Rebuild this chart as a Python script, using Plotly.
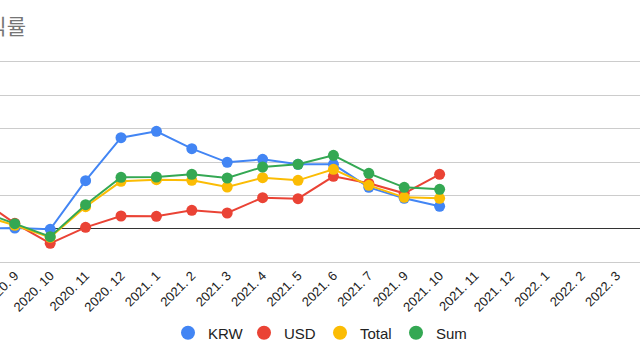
import plotly.graph_objects as go

categories = ["2020. 8", "2020. 9", "2020. 10", "2020. 11", "2020. 12",
              "2021. 1", "2021. 2", "2021. 3", "2021. 4", "2021. 5",
              "2021. 6", "2021. 7", "2021. 9", "2021. 10", "2021. 11",
              "2021. 12", "2022. 1", "2022. 2", "2022. 3", "2022. 4"]

krw = [0.0, 0.1, -0.1, 7.2, 13.65, 14.6, 12.0, 9.95, 10.4, 9.65,
       9.65, 6.2, 4.55, 3.35, None, None, None, None, None, None]
usd = [4.5, 0.8, -2.2, 0.2, 1.9, 1.85, 2.75, 2.35, 4.65, 4.5,
       7.85, 6.8, 5.3, 8.15, None, None, None, None, None, None]
total = [2.1, 0.5, -1.3, 3.3, 7.1, 7.35, 7.25, 6.25, 7.65, 7.25,
         8.9, 6.5, 4.7, 4.55, None, None, None, None, None, None]
sum_ = [2.7, 0.75, -1.2, 3.6, 7.7, 7.75, 8.15, 7.6, 9.25, 9.65,
        11.0, 8.3, 6.2, 5.9, None, None, None, None, None, None]

series = [("KRW", krw, "#4285F4"), ("USD", usd, "#EA4335"),
          ("Total", total, "#FBBC04"), ("Sum", sum_, "#34A853")]

FONT = "Arial, 'Liberation Sans', 'Noto Sans CJK KR', sans-serif"

fig = go.Figure()
for name, vals, color in series:
    fig.add_trace(go.Scatter(
        x=categories, y=vals, name=name, mode="lines+markers",
        line=dict(color=color, width=2),
        marker=dict(color=color, size=11),
        showlegend=False, connectgaps=False))
for name, vals, color in series:
    fig.add_trace(go.Scatter(
        x=[None], y=[None], name=name, mode="markers",
        marker=dict(color=color, size=14), showlegend=True))

fig.add_annotation(text="수익률", xref="paper", yref="paper",
                   x=28 / 640, y=1.175, xanchor="right", yanchor="middle",
                   showarrow=False,
                   font=dict(family=FONT, size=21, color="#757575"))

fig.update_layout(
    width=640, height=360,
    margin=dict(l=0, r=0, t=62, b=98, pad=0, autoexpand=False),
    paper_bgcolor="white", plot_bgcolor="white",
    font=dict(family=FONT, size=13, color="#222222"),
    legend=dict(orientation="h", xanchor="center", x=0.5,
                yref="container", y=1 - 333 / 360, yanchor="middle",
                font=dict(size=15, color="#222222"),
                entrywidth=31, entrywidthmode="pixels",
                itemsizing="trace"),
    xaxis=dict(type="category", categoryorder="array",
               categoryarray=categories, automargin=False,
               range=[0.582, 18.66], showgrid=False, zeroline=False,
               tickangle=-45, tickmode="linear", dtick=1,
               ticks="", showline=True, mirror=True,
               linecolor="#cccccc", linewidth=1,
               tickfont=dict(size=13, color="#222222")),
    yaxis=dict(range=[-5, 25], dtick=5, tick0=0, automargin=False,
               showgrid=True, gridcolor="#cccccc", gridwidth=1,
               zeroline=True, zerolinecolor="#333333", zerolinewidth=1,
               showticklabels=False, ticks=""),
)

fig.write_html("out.html", config={"displayModeBar": False},
               post_script="document.body.style.margin='0px';")
